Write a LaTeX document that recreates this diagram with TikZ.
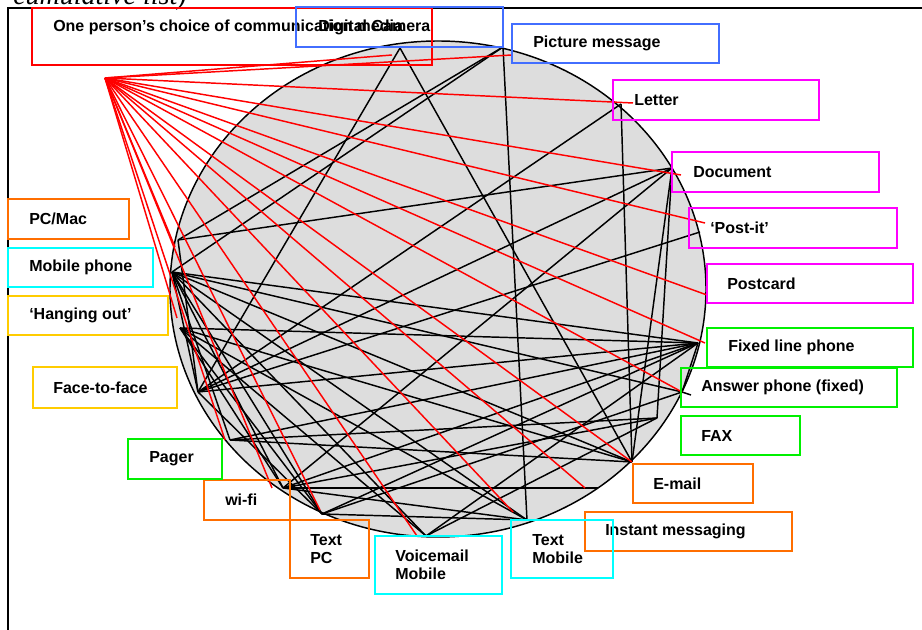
\documentclass[tikz,border=0pt]{standalone}
\usepackage{fontspec}
\setmainfont{Liberation Sans}
\newfontfamily\timesit{Liberation Serif}
\usetikzlibrary{positioning}

\definecolor{boxblue}{RGB}{66,110,255}
\definecolor{boxorange}{RGB}{255,110,0}
\definecolor{boxgold}{RGB}{255,204,0}
\definecolor{boxgreen}{RGB}{0,240,0}
\definecolor{boxcyan}{RGB}{0,255,255}
\definecolor{boxpink}{RGB}{255,0,255}
\definecolor{circgray}{RGB}{221,221,221}

\begin{document}
\begin{tikzpicture}[x=0.75pt,y=-0.75pt,
                    mbox/.style={draw=#1,line width=1.4pt,anchor=north west,inner sep=0pt,outer sep=0pt},
                    mtext/.style={inner sep=0pt,align=left,font=\fontsize{12}{13.5}\selectfont\bfseries},
                    web/.style={black,line width=1.1pt},
                    spoke/.style={red,line width=1.1pt}]

\useasboundingbox (0,0) rectangle (922,630);

        % frame and the cut-off heading
        \draw[line width=1.5pt] (8,640) -- (8,8) -- (930,8);
        \node[anchor=base west,inner sep=0pt,font=\timesit\itshape\fontsize{21}{24}\selectfont] (cumul) at (13,5) {cumulative list)};

        \draw[line width=1.1pt,fill=circgray] (438,289) ellipse [x radius=201pt,y radius=186pt];

        % points on the circle
        \coordinate (vcam)   at (400,48);
        \coordinate (vpic)   at (503,47);
        \coordinate (vlet)   at (621,104);
        \coordinate (vdoc)   at (672,168);
        \coordinate (vpost)  at (700,232);
        \coordinate (vfix)   at (698,343);
        \coordinate (vans)   at (682,392);
        \coordinate (vtick)  at (691,395);
        \coordinate (vfax)   at (657,418);
        \coordinate (vmail)  at (632,462);
        \coordinate (vim)    at (598,488);
        \coordinate (vtxm)   at (527,520);
        \coordinate (vvm)    at (426,536);
        \coordinate (vtxp)   at (322,514);
        \coordinate (vwifi)  at (283,488);
        \coordinate (vpager) at (230,440);
        \coordinate (vf2f)   at (198,392);
        \coordinate (vhang)  at (180,328);
        \coordinate (vmob)   at (172,272);
        \coordinate (vpc)    at (178,240);

        \path[web]
        (vcam)   edge (vf2f)   (vcam)   edge (vmail)
        (vpic)   edge (vtxm)   (vpic)   edge (vpc)     (vpic)  edge (vmob)
        (vlet)   edge (vf2f)   (vlet)   edge (vmail)
        (vdoc)   edge (vpc)    (vdoc)   edge (vf2f)    (vdoc)  edge (vwifi)
        (vdoc)   edge (vfax)   (vdoc)   edge (vmail)
        (vpost)  edge (vf2f)
        (vfix)   edge (vmob)   (vfix)   edge (vhang)   (vfix)  edge (vf2f)
        (vfix)   edge (vpager) (vfix)   edge (vwifi)   (vfix)  edge (vtxp)
        (vfix)   edge (vans)   (vfix)   edge (vvm)
        (vans)   edge (vmob)   (vans)   edge (vtxp)    (vans)  edge (vtick)
        (vfax)   edge (vwifi)  (vfax)   edge (vvm)     (vfax)  edge (vpager)
        (vmail)  edge (vmob)   (vmail)  edge (vhang)   (vmail) edge (vpager)
        (vtxm)   edge (vwifi)  (vtxm)   edge (vmob)    (vtxm)  edge (vhang)
        (vtxm)   edge (vtxp)
        (vvm)    edge (vmob)   (vvm)    edge (vhang)
        (vwifi)  edge (vim)
        (vmob)   edge (vf2f)   (vmob)   edge (vpager)  (vmob)  edge (vwifi)
        (vmob)   edge (vtxp)
        (vhang)  edge (vtxp)   (vhang)  edge (vwifi)
        (vf2f)   edge (vtxp)   (vpc)    edge (vf2f)
        ; %end path

        % red spokes from one person
        \coordinate (hub)    at (105,78);
        \coordinate (rcam)   at (392,55);
        \coordinate (rpic)   at (512,55);
        \coordinate (rlet)   at (633,103);
        \coordinate (rdoc)   at (681,175);
        \coordinate (rpost)  at (705,223);
        \coordinate (rcard)  at (707,295);
        \coordinate (rfix)   at (705,343);
        \coordinate (rans)   at (682,392);
        \coordinate (rmail)  at (632,462);
        \coordinate (rim)    at (585,488);
        \coordinate (rtxm)   at (513,512);
        \coordinate (rvm)    at (417,536);
        \coordinate (rtxp)   at (320,510);
        \coordinate (rwifi)  at (272,488);
        \coordinate (rpager) at (225,440);
        \coordinate (rhang)  at (177,318);
        \coordinate (rpc)    at (175,247);

        \path[spoke]
        (hub) edge (rcam)   (hub) edge (rpic)   (hub) edge (rlet)
        (hub) edge (rdoc)   (hub) edge (rpost)  (hub) edge (rcard)
        (hub) edge (rfix)   (hub) edge (rans)   (hub) edge (rmail)
        (hub) edge (rim)    (hub) edge (rtxm)   (hub) edge (rvm)
        (hub) edge (rtxp)   (hub) edge (rwifi)  (hub) edge (rpager)
        (hub) edge (rhang)  (hub) edge (rpc)
        ; %end path

        % boxes
        \node[mbox=red,minimum width=300pt,minimum height=42.75pt]          (titlebox) at (32,8)   {};
        \node[mtext,anchor=west]                                            (title)    at (53,27)  {One person’s choice of communication media};

        \node[mbox=boxblue,minimum width=155.25pt,minimum height=30pt]      (cambox)   at (296,7)  {};
        \node[mtext,right=16.5pt of cambox.west]                            (cam)                  {Digital Camera};

        \node[mbox=boxblue,minimum width=155.25pt,minimum height=29.25pt]   (picbox)   at (512,24) {};
        \node[mtext,right=15.75pt of picbox.west]                           (pic)                  {Picture message};

        \node[mbox=boxpink,minimum width=154.5pt,minimum height=30pt]       (letbox)   at (613,80) {};
        \node[mtext,right=15.75pt of letbox.west]                           (let)                  {Letter};

        \node[mbox=boxpink,minimum width=155.25pt,minimum height=30pt]      (docbox)   at (672,152) {};
        \node[mtext,right=15.75pt of docbox.west]                           (doc)                  {Document};

        \node[mbox=boxpink,minimum width=156pt,minimum height=30pt]         (postbox)  at (689,208) {};
        \node[mtext,right=15.75pt of postbox.west]                          (post)                 {‘Post-it’};

        \node[mbox=boxpink,minimum width=154.5pt,minimum height=29.25pt]    (cardbox)  at (707,264) {};
        \node[mtext,right=15pt of cardbox.west]                             (card)                 {Postcard};

        \node[mbox=boxgreen,minimum width=154.5pt,minimum height=29.25pt]   (fixbox)   at (707,328) {};
        \node[mtext,right=15.75pt of fixbox.west]                           (fix)                  {Fixed line phone};

        \node[mbox=boxgreen,minimum width=162pt,minimum height=29.25pt]     (ansbox)   at (681,368) {};
        \node[mtext,right=15pt of ansbox.west]                              (ans)                  {Answer phone (fixed)};

        \node[mbox=boxgreen,minimum width=89.25pt,minimum height=29.25pt]   (faxbox)   at (681,416) {};
        \node[mtext,right=15pt of faxbox.west]                              (fax)                  {FAX};

        \node[mbox=boxorange,minimum width=90pt,minimum height=29.25pt]     (mailbox)  at (633,464) {};
        \node[mtext,right=15pt of mailbox.west]                             (mail)                 {E-mail};

        \node[mbox=boxorange,minimum width=155.25pt,minimum height=29.25pt] (imbox)    at (585,512) {};
        \node[mtext,right=15pt of imbox.west]                               (im)                   {Instant messaging};

        \node[mbox=boxcyan,minimum width=76.5pt,minimum height=43.5pt]      (txmbox)   at (511,520) {};
        \node[mtext,right=15.75pt of txmbox.west]                           (txm)                  {Text\\Mobile};

        \node[mbox=boxcyan,minimum width=95.25pt,minimum height=43.5pt]     (vmbox)    at (375,536) {};
        \node[mtext,right=15pt of vmbox.west]                               (vm)                   {Voicemail\\Mobile};

        \node[mbox=boxorange,minimum width=59.25pt,minimum height=43.5pt]   (txpbox)   at (290,520) {};
        \node[mtext,right=15pt of txpbox.west]                              (txp)                  {Text\\PC};

        \node[mbox=boxorange,minimum width=64.5pt,minimum height=30pt]      (wifibox)  at (204,480) {};
        \node[mtext,right=15.75pt of wifibox.west]                          (wifi)                 {wi-fi};

        \node[mbox=boxgreen,minimum width=70.5pt,minimum height=30pt]       (pagerbox) at (128,439) {};
        \node[mtext,right=15.75pt of pagerbox.west]                         (pager)                {Pager};

        \node[mbox=boxgold,minimum width=108pt,minimum height=30.75pt]      (f2fbox)   at (33,367) {};
        \node[mtext,right=15pt of f2fbox.west]                              (f2f)                  {Face-to-face};

        \node[mbox=boxgold,minimum width=120pt,minimum height=29.25pt]      (hangbox)  at (8,296)  {};
        \node[mtext,right=15.75pt of hangbox.west]                          (hang)                 {‘Hanging out’};

        \node[mbox=boxcyan,minimum width=108.75pt,minimum height=29.25pt]   (mobbox)   at (8,248)  {};
        \node[mtext,right=15.75pt of mobbox.west]                           (mob)                  {Mobile phone};

        \node[mbox=boxorange,minimum width=90.75pt,minimum height=30pt]     (pcbox)    at (8,199)  {};
        \node[mtext,right=15.75pt of pcbox.west]                            (pc)                   {PC/Mac};

\end{tikzpicture}
\end{document}
